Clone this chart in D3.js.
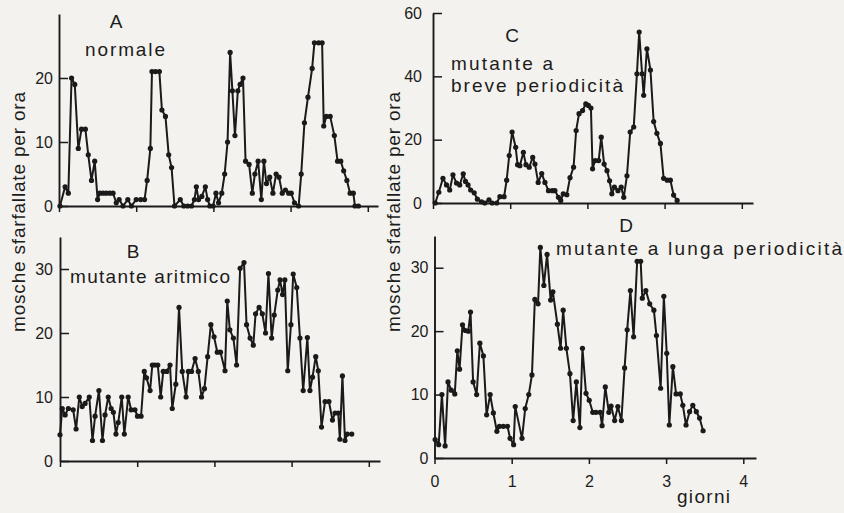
<html>
<head>
<meta charset="utf-8">
<title>Sfarfallamento</title>
<script src="https://d3js.org/d3.v7.min.js"></script>
<style>
  body { margin: 0; background: #f4f2ee; }
  text { font-family: "Liberation Sans", Arial, sans-serif; fill: #1c1c1c; }
</style>
</head>
<body>
<svg width="844" height="513"></svg>
<script>
// ore dall'inizio, mosche sfarfallate per ora
var hoursA = [0.3,1.9,2.9,3.9,4.9,6.0,7.0,8.2,9.1,10.1,11.1,12.0,12.7,13.7,14.7,15.8,16.8,17.8,18.7,19.9,21.4,22.5,24.0,25.4,26.6,27.4,28.4,28.9,30.0,31.2,32.0,33.1,34.1,35.0,35.9,37.7,38.8,40.0,41.2,42.1,42.7,43.4,44.4,45.5,46.2,46.9,47.9,48.8,49.6,50.6,51.5,52.4,53.2,53.9,54.7,55.6,56.3,57.2,58.0,59.1,60.1,60.9,61.9,62.9,63.7,64.5,65.5,66.5,67.5,68.4,69.4,70.4,71.4,72.2,73.2,74.5,75.3,76.3,77.4,78.7,79.4,80.7,81.8,82.3,83.1,84.3,85.6,86.6,87.6,88.5,89.5,90.5,91.5,92.0,93.1];
var countsA = [0,3,2,20,19,9,12,12,8,4,7,1,2,2,2,2,2,0.5,1,0,1,0,1,1,1,4,9,21,21,21,15,14,8,6,0,1,0,0,0,1,3,1,1.5,3,1,0,0,2,0.5,2,5,10,24,18,11,18,19,20,7,6.5,2,5,7,1,7,3.5,4.5,2,5,4.5,2,2.5,2,2,0.5,0,5,13,17,21.5,25.5,25.5,25.5,12.5,14,14,11,7,7,5.5,4,2,2,0,0];

var hoursB = [0,0.7,1.6,2.6,4.1,5.0,6.0,6.9,7.8,9.1,10.1,10.9,12.1,13.2,14.0,15.0,15.9,16.6,17.4,18.1,19.2,20.0,21.2,22.1,23.3,24.1,25.2,26.2,26.9,28.0,28.7,29.5,30.4,31.3,32.1,33.2,34.2,34.9,36.0,37.0,38.0,39.2,39.9,40.9,42.0,43.0,44.0,44.9,45.9,46.9,47.9,48.9,49.9,51.3,52.0,52.8,53.9,54.9,56.0,57.2,58.0,59.1,60.1,60.8,61.9,62.9,63.9,64.8,65.8,66.6,67.7,68.4,69.2,69.9,70.8,71.8,72.5,73.6,74.6,75.6,76.9,77.7,78.5,79.5,80.3,81.3,82.4,83.6,84.7,85.5,86.5,87.0,87.8,88.6,89.3,90.7];
var countsB = [4.1,8.2,7.2,8.2,8,5,10,8.5,9,10,3.2,7,11,3.2,7.2,10,8.2,7.6,4.2,6,10,4.2,10,8,8,7,7,14,13,11,15,15,15,10,14,14,15,8.2,12,24,14,10,14,14,16,14,10,11.3,16.3,21.3,19.4,17,17,14.1,25,20.5,19.2,15,30.1,31,21.3,19.2,18.1,23,24,23,20,29.3,19.2,22.8,26.7,28.3,26,28.3,14.1,21.3,29.2,27.1,19.2,11,19.3,11,13.1,16.3,14.1,5.3,9.3,9.3,6.4,7.5,7.5,3.4,13.3,3.2,4.2,4.2];

var hoursC = [0.7,1.8,3.1,4.2,5.2,6.2,7.3,8.3,9.4,10.1,10.9,11.7,12.8,13.8,15.1,16.1,17.4,18.4,19.8,20.8,22.1,22.9,23.7,24.6,25.7,26.3,27.0,28.1,28.9,29.9,31.0,31.7,32.7,33.8,34.8,35.9,37.1,37.9,39.0,39.7,40.5,41.6,42.6,43.7,44.5,45.4,46.5,47.5,48.3,49.1,49.6,50.4,51.5,52.3,53.2,54.1,54.9,55.6,56.4,57.5,58.5,59.3,60.3,61.3,62.4,63.4,64.1,65.0,65.5,66.5,67.6,68.6,69.6,70.7,71.7,72.8,73.8,74.8,75.9];
var countsC = [0,3.4,7.8,5.7,4.1,8.9,6.3,5.7,9.2,6.8,5.7,4.1,3.2,1.2,0.4,0,1,0,0,2,2,7.2,15,22.4,17.6,12.1,11.8,16,12.1,11.3,14.4,12.3,6.5,9.3,6.5,3.9,3.9,3.9,1.8,0.8,2.9,2.6,8,11.3,22.9,28.2,29.2,31.3,30.8,30,10.8,13.4,13.4,20.8,12.3,10.2,7,2.9,5,3.9,5,1.8,8.6,22.4,24,40.8,54,40.8,34,48.7,42,25.7,22,18.8,7.8,7.2,7.2,2.5,0.8];

var hoursD = [0.2,1.3,2.3,3.3,4.2,5.2,6.3,7.1,7.8,8.7,9.6,10.5,11.2,12.0,13.1,14.1,15.2,16.2,17.3,18.3,19.4,20.2,21.4,22.7,23.5,24.6,25.1,27.2,28.2,29.3,30.3,31.2,32.2,32.9,34.0,35.0,36.1,36.8,38.2,39.2,40.0,41.0,42.1,43.1,44.1,45.2,46.0,47.1,48.1,49.2,50.2,51.5,52.1,53.1,54.2,54.9,56.0,57.0,58.1,59.1,59.9,60.9,61.9,63.0,64.1,64.6,65.7,66.9,68.2,69.0,70.3,71.3,72.2,73.0,74.1,75.1,76.4,77.2,78.2,79.3,80.3,81.4,82.4,83.5];
var countsD = [2.9,2.1,10,1.9,12,10.7,10.1,16.9,14,21,20.1,20,23,12,10,18.1,16.1,6.8,10,7.1,4.2,5,5,5,3.1,2.1,8.1,3.1,7.8,10,13.1,25,24.3,33.2,27.2,32.1,24.9,26.2,21.1,17.3,23.3,17.3,13.3,5.9,12,4.8,17.3,10.2,9.1,7.2,7.2,7.2,5.1,11.2,7.2,8.2,5.9,8.1,5.9,14.2,20.2,26.4,19.1,31,31,25.2,26.4,24.3,23.3,19.3,11,25.5,16.5,5.2,14.4,10.1,10.1,8.3,5.2,7.3,8.3,7.3,6.3,4.3];

var dayTicks = [0,1,2,3,4];
var yTicksA = [0,10,20], yTicksB = [0,10,20,30], yTicksC = [0,20,40,60], yTicksD = [0,10,20,30];

var svg = d3.select("svg");
var ink = "#1a1a1a";

var panels = [
  {hours: hoursA, counts: countsA, yTicks: yTicksA, yMax: 30, left: 59, right: 378, bottom: 206, top: 14, labelGap: 6, xLabels: false},
  {hours: hoursB, counts: countsB, yTicks: yTicksB, yMax: 35, left: 60, right: 380, bottom: 461, top: 237, labelGap: 7, xLabels: false},
  {hours: hoursC, counts: countsC, yTicks: yTicksC, yMax: 60, left: 433, right: 753, bottom: 203, top: 13, labelGap: 11, xLabels: false},
  {hours: hoursD, counts: countsD, yTicks: yTicksD, yMax: 35, left: 434.5, right: 756, bottom: 458, top: 236, labelGap: 6, xLabels: true}
];

panels.forEach(function(p) {
  var dayPx = 77.2;
  var x = d3.scaleLinear().domain([0, (p.right - p.left) / dayPx * 24]).range([p.left, p.right]);
  var y = d3.scaleLinear().domain([0, p.yMax]).range([p.bottom, p.top]);
  var g = svg.append("g");

  // asse x, tacche verso il basso
  var xa = g.append("g").attr("transform", `translate(0,${p.bottom})`)
    .call(d3.axisBottom(x).tickValues(dayTicks.map(d => d * 24)).tickSize(6).tickSizeOuter(0)
      .tickFormat(p.xLabels ? (d => d / 24) : ""));
  xa.select(".domain").attr("stroke", ink).attr("stroke-width", 1.9);
  xa.selectAll(".tick line").attr("stroke", ink).attr("stroke-width", 1.5);
  xa.selectAll(".tick text").attr("dy", null).attr("y", 29).style("font-size", "16px").attr("fill", ink);

  // asse y, tacche verso l'interno
  var ya = g.append("g").attr("transform", `translate(${p.left},0)`)
    .call(d3.axisRight(y).tickValues(p.yTicks).tickSize(9).tickSizeOuter(0).tickFormat(""));
  ya.select(".domain").attr("stroke", ink).attr("stroke-width", 1.9);
  ya.selectAll(".tick line").attr("stroke", ink).attr("stroke-width", 1.5);
  g.selectAll(".ylab").data(p.yTicks).enter().append("text")
    .attr("x", p.left - p.labelGap).attr("y", d => y(d)).attr("dy", "0.36em")
    .attr("text-anchor", "end").style("font-size", "16px").text(d => d);

  var pts = p.hours.map((h, i) => [h, p.counts[i]]);
  g.append("path").datum(pts)
    .attr("d", d3.line().x(d => x(d[0])).y(d => y(d[1])))
    .attr("fill", "none").attr("stroke", ink).attr("stroke-width", 2).attr("stroke-linejoin", "round");
  g.selectAll("circle").data(pts).enter().append("circle")
    .attr("cx", d => x(d[0])).attr("cy", d => y(d[1])).attr("r", 2.6).attr("fill", ink);
});

// titoli dei pannelli
var titles = [
  {t: "A", x: 116, y: 28, anchor: "middle"},
  {t: "normale", x: 85, y: 56, len: 80},
  {t: "B", x: 133, y: 258, anchor: "middle"},
  {t: "mutante aritmico", x: 70, y: 283, len: 160},
  {t: "C", x: 512, y: 42, anchor: "middle"},
  {t: "mutante a", x: 451, y: 70, len: 102},
  {t: "breve periodicità", x: 451, y: 92, len: 172},
  {t: "D", x: 626, y: 232, anchor: "middle"},
  {t: "mutante a lunga periodicità", x: 556, y: 255, len: 286},
  {t: "giorni", x: 677, y: 503, len: 53}
];
titles.forEach(function(d) {
  var t = svg.append("text").attr("x", d.x).attr("y", d.y)
    .attr("text-anchor", d.anchor || "start").style("font-size", "19px").text(d.t);
  if (d.len) t.attr("textLength", d.len).attr("lengthAdjust", "spacing");
});

[25, 400].forEach(function(bx) {
  svg.append("text").attr("transform", `translate(${bx},212) rotate(-90)`)
    .attr("text-anchor", "middle").style("font-size", "19px")
    .attr("textLength", 240).attr("lengthAdjust", "spacing")
    .text("mosche sfarfallate per ora");
});
</script>
</body>
</html>
